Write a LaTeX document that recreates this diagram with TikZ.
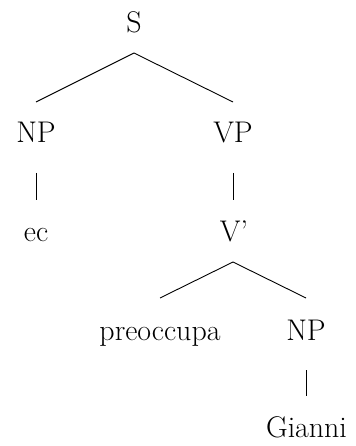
\documentclass[tikz,border=0pt]{standalone}
\usepackage{fontspec}
\setmainfont{Latin Modern Roman}
\begin{document}
\begin{tikzpicture}[x=1bp,y=-1bp,
  lab/.style={anchor=base,inner sep=0pt,font=\fontsize{30}{36}\selectfont},
  edge/.style={line width=0.9bp,black}]
\useasboundingbox (0,0) rectangle (355,446);
\node[lab] (S) at (134,33) {S};
\node[lab] (NPa) at (36,143) {NP};
\node[lab] (VP) at (233,143) {VP};
\node[lab] (ec) at (36,241) {ec};
\node[lab] (Vb) at (234,241) {V'};
\node[lab] (pre) at (160,340) {preoccupa};
\node[lab] (NPb) at (306,340) {NP};
\node[lab] (G) at (306.5,437) {Gianni};
\draw[edge] ([yshift=-20bp]S.base) -- ([yshift=41bp]NPa.base);
\draw[edge] ([yshift=-20bp]S.base) -- ([yshift=41bp]VP.base);
\draw[edge] ([yshift=-30bp]NPa.base) -- ([yshift=41bp]NPa.base |- ec.base);
\draw[edge] ([yshift=-30bp]VP.base) -- ([yshift=41bp]VP.base |- Vb.base);
\draw[edge] ([yshift=-21bp]VP.base |- Vb.base) -- ([yshift=42bp]pre.base);
\draw[edge] ([yshift=-21bp]VP.base |- Vb.base) -- ([yshift=42bp]NPb.base);
\draw[edge] ([yshift=-30bp]NPb.base) -- ([yshift=41bp]NPb.base |- G.base);
\end{tikzpicture}
\end{document}
